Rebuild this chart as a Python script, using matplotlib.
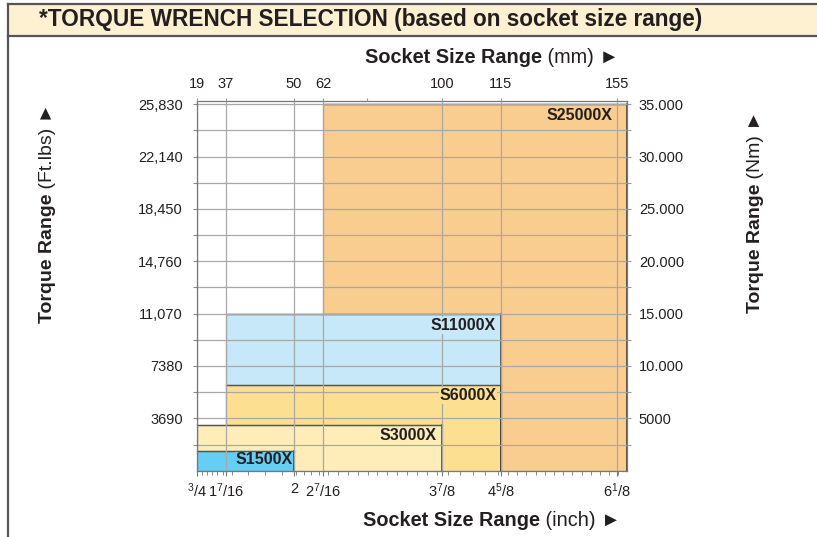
import matplotlib.pyplot as plt
import numpy as np
from matplotlib.patches import Rectangle
from matplotlib.lines import Line2D

plt.rcParams['font.family'] = ['Liberation Sans', 'DejaVu Sans']
plt.rcParams['mathtext.fontset'] = 'custom'
plt.rcParams['mathtext.rm'] = 'Liberation Sans'
plt.rcParams['mathtext.it'] = 'Liberation Sans:italic'
plt.rcParams['mathtext.bf'] = 'Liberation Sans:bold'

# wrench models: socket size range (mm) and max torque (Nm)
models = ['S25000X', 'S11000X', 'S6000X', 'S3000X', 'S1500X']
socket_min_mm = [62, 37, 37, 19, 19]
socket_max_mm = [158.75, 115, 115, 100, 50]
torque_max_nm = [35000, 15000, 8150, 4350, 1900]
colors = ['#F9CC8F', '#C6E8F8', '#FDDF92', '#FEEDB8', '#64CEF4']

mm_ticks = [19, 37, 50, 62, 100, 115, 155]
mm_labels = ['19', '37', '50', '62', '100', '115', '155']
inch_labels = [r'$\mathregular{{}^3/4}$', r'$\mathregular{1^7/16}$', '2',
               r'$\mathregular{2^7/16}$', r'$\mathregular{3^7/8}$',
               r'$\mathregular{4^5/8}$', r'$\mathregular{6^1/8}$']
nm_ticks = [5000, 10000, 15000, 20000, 25000, 30000, 35000]
nm_labels = ['5000', '10.000', '15.000', '20.000', '25.000', '30.000', '35.000']
ftlb_labels = ['3690', '7380', '11,070', '14,760', '18,450', '22,140', '25,830']

# socket axis is drawn out of scale, each labelled size has its own slot
mm_knots = [19, 37, 50, 62, 100, 115, 155, 158.75]
slot_px = [0, 29.3, 97.3, 126.6, 245, 304, 420, 430]


def fwd(x):
    return np.interp(x, mm_knots, slot_px)


def inv(p):
    return np.interp(p, slot_px, mm_knots)


W, H = 817, 537
TXT = '#231F20'
fig = plt.figure(figsize=(W / 100, H / 100), dpi=100)


def fx(px):
    return px / W


def fy(py):
    return 1 - py / H


# title banner and frame
fig.add_artist(Rectangle((fx(7.5), fy(35.5)), 1, fy(3.5) - fy(35.5),
                         transform=fig.transFigure, facecolor='#FEF1D2',
                         edgecolor='none', zorder=0))
for xs, ys in [([7.5, W], [3.5, 3.5]), ([7.5, W], [35.5, 35.5]), ([7.5, 7.5], [3.5, H])]:
    fig.add_artist(Line2D([fx(v) for v in xs], [fy(v) for v in ys],
                          transform=fig.transFigure, color='#555555', lw=1.6))
fig.text(fx(39), fy(19.5), '*TORQUE WRENCH SELECTION (based on socket size range)',
         fontsize=16.3, fontweight='bold', color=TXT, va='center', ha='left')

ax = fig.add_axes([fx(196.7), fy(470.7), 430 / W, (470.7 - 101) / H])
ax.set_xscale('function', functions=(fwd, inv))
ax.set_xlim(19, 158.75)
ax.set_ylim(0, 35300)

for i, m in enumerate(models):
    lo, hi, top = socket_min_mm[i], socket_max_mm[i], torque_max_nm[i]
    ax.add_patch(Rectangle((lo, 0), hi - lo, top, facecolor=colors[i],
                           edgecolor='#5a5a5a', lw=0.8, zorder=1 + i * 0.01))
    ax.plot([hi, hi], [top, 0], color='#333333', lw=1.1, zorder=2.5, clip_on=False)
    ax.plot([lo, hi], [top, top], color='#555555', lw=1.0, zorder=2.5, clip_on=False)

label_dx = [-10, -4, -3, -4, -1]
label_dy = [-8.5, -8.5, -7.5, -7.5, -6.5]
for i, m in enumerate(models):
    ax.annotate(m, xy=(socket_max_mm[i], torque_max_nm[i]), xytext=(label_dx[i], label_dy[i]),
                textcoords='offset points', ha='right', va='center', fontsize=11.5,
                fontweight='bold', color=TXT, zorder=3,
                bbox=dict(facecolor=colors[i], edgecolor='none', pad=0.6))

ax.set_xticks(mm_ticks)
ax.set_xticklabels(inch_labels)
eighths = np.arange(0.75, 6.26, 0.125) * 25.4
ax.set_xticks(eighths[(eighths > 19.1) & (eighths < 158)], minor=True)
ax.set_yticks(nm_ticks)
ax.set_yticklabels(ftlb_labels)
ax.set_yticks(np.arange(2500, 35000, 5000), minor=True)
ax.grid(True, which='major', axis='x', color='#a8a8a8', lw=0.9)
ax.grid(True, which='both', axis='y', color='#a8a8a8', lw=0.9)
ax.set_axisbelow(False)
for gl in ax.get_xgridlines() + ax.get_ygridlines():
    gl.set_zorder(1.5)
ax.tick_params(axis='x', which='major', direction='out', length=3.8, width=0.8,
               color='#777777', labelsize=10.5, labelcolor=TXT, pad=4)
ax.tick_params(axis='x', which='minor', direction='out', length=3.0, width=0.7,
               color='#888888')
ax.tick_params(axis='y', which='both', direction='out', length=2.6, width=0.8,
               color='#888888', labelsize=10.5, labelcolor=TXT, pad=7.5)
for s in ax.spines.values():
    s.set_color('#777777')
    s.set_linewidth(0.9)
    s.set_zorder(2.6)

# top axis in mm
axt = ax.twiny()
axt.set_xscale('function', functions=(fwd, inv))
axt.set_xlim(ax.get_xlim())
axt.set_xticks(mm_ticks)
axt.set_xticklabels(mm_labels)
axt.set_xticks([76], minor=True)
axt.tick_params(axis='x', which='both', direction='out', length=2.5, width=0.8,
                color='#999999', labelsize=10.5, labelcolor=TXT, pad=5)
# right axis in Nm
axr = ax.twinx()
axr.set_ylim(ax.get_ylim())
axr.set_yticks(nm_ticks)
axr.set_yticklabels(nm_labels)
axr.set_yticks(np.arange(2500, 35000, 5000), minor=True)
axr.tick_params(axis='y', which='both', direction='out', length=3.2, width=0.8,
                color='#999999', labelsize=10.5, labelcolor=TXT, pad=5.5)
for a in (axt, axr):
    for s in a.spines.values():
        s.set_visible(False)


# axis titles: bold part then regular part
def axis_title(x, y, bold, rest, rot=0):
    if rot:
        t = fig.text(fx(x), fy(y), bold, rotation=90, ha='center', va='bottom',
                     fontsize=14, fontweight='bold', color=TXT)
        ax.annotate(rest, xy=(0, 1), xycoords=t, ha='left', va='bottom', rotation=90,
                    fontsize=14, color=TXT, annotation_clip=False)
    else:
        t = fig.text(fx(x), fy(y), bold, ha='left', va='center',
                     fontsize=14.3, fontweight='bold', color=TXT)
        ax.annotate(rest, xy=(1, 0), xycoords=t, ha='left', va='bottom',
                    fontsize=14.3, color=TXT, annotation_clip=False)


# the arrow glyph turns upward with the rotated titles
axis_title(365, 57, 'Socket Size Range', ' (mm) \u25BA')
axis_title(363, 521, 'Socket Size Range', ' (inch) \u25BA')
axis_title(47, 323, 'Torque Range', ' (Ft.lbs) \u25BA', rot=90)
axis_title(755, 313, 'Torque Range', ' (Nm) \u25BA', rot=90)

fig.savefig('out.png', dpi=100)
